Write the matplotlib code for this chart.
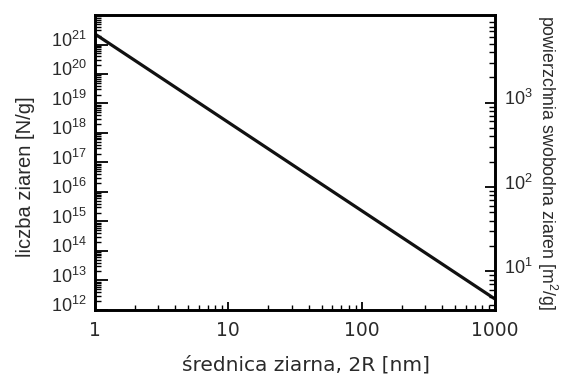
import numpy as np
import matplotlib
matplotlib.use('Agg')
import matplotlib.pyplot as plt
from matplotlib.ticker import LogLocator, FixedLocator, FixedFormatter, NullFormatter
import matplotlib.transforms as mtransforms

plt.rcParams['font.family'] = ['Liberation Sans', 'DejaVu Sans']
plt.rcParams['mathtext.fontset'] = 'custom'
plt.rcParams['mathtext.rm'] = 'Liberation Sans'
plt.rcParams['mathtext.it'] = 'Liberation Sans'

# data: grain diameter [nm] vs number of grains per gram
diameter = [1, 1000]
grain_count = [2.3e21, 2.3e12]

x_ticks = [1, 10, 100, 1000]
x_labels = ['1', '10', '100', '1000']
left_exps = list(range(12, 22))
right_exps = [1, 2, 3]

text_col = '#2a2a2a'
wide_font = ['DejaVu Sans']

fig = plt.figure(figsize=(5.64, 3.76), dpi=100)
ax = fig.add_axes([0.168, 0.176, 0.71, 0.784])

ax.plot(diameter, grain_count, color='#111111', lw=2.3, solid_capstyle='butt')

ax.set_xscale('log')
ax.set_yscale('log')
ax.set_xlim(1, 1000)
ax.set_ylim(1e12, 1e22)

ax.xaxis.set_major_locator(FixedLocator(x_ticks))
ax.xaxis.set_major_formatter(FixedFormatter(x_labels))
ax.xaxis.set_minor_locator(LogLocator(base=10, subs=np.arange(2, 10), numticks=100))
ax.xaxis.set_minor_formatter(NullFormatter())

ax.yaxis.set_major_locator(FixedLocator([10.0 ** e for e in left_exps]))
ax.yaxis.set_major_formatter(FixedFormatter([rf'$10^{{{e}}}$' for e in left_exps]))
ax.yaxis.set_minor_locator(LogLocator(base=10, subs=np.arange(2, 10), numticks=100))
ax.yaxis.set_minor_formatter(NullFormatter())

ax.tick_params(axis='both', which='major', direction='in', length=9, width=1.3,
               labelsize=13, colors='black', labelcolor=text_col)
ax.tick_params(axis='both', which='minor', direction='in', length=4.5, width=1.0)
ax.tick_params(axis='x', which='both', top=False, pad=8)
ax.tick_params(axis='y', which='both', right=False, pad=6)
ax.tick_params(axis='x', which='major', length=6)
ax.tick_params(axis='x', which='minor', length=3.5)
for lab in ax.get_xticklabels():
    lab.set_family(wide_font)
    lab.set_fontsize(13.5)

for s in ax.spines.values():
    s.set_linewidth(1.9)
    s.set_color('black')

# right axis: specific surface area
ax2 = ax.twinx()
ax2.set_yscale('log')
ax2.set_ylim(10 ** 0.544, 10 ** 4.04)
ax2.yaxis.set_major_locator(FixedLocator([10.0 ** e for e in right_exps]))
ax2.yaxis.set_major_formatter(FixedFormatter([rf'$10^{{{e}}}$' for e in right_exps]))
ax2.yaxis.set_minor_locator(LogLocator(base=10, subs=np.arange(2, 10), numticks=100))
ax2.yaxis.set_minor_formatter(NullFormatter())
ax2.tick_params(axis='y', which='major', direction='in', length=7, width=1.3,
                labelsize=13, labelcolor=text_col, pad=6)
ax2.tick_params(axis='y', which='minor', direction='in', length=4, width=1.0)
for s in ax2.spines.values():
    s.set_linewidth(1.9)

# shift y tick labels slightly upward like the original
shift = mtransforms.ScaledTranslation(0, 4 / 72, fig.dpi_scale_trans)
for lab in ax.get_yticklabels() + ax2.get_yticklabels():
    lab.set_transform(lab.get_transform() + shift)

ax.set_xlabel('średnica ziarna, 2R [nm]', fontsize=14.5, color=text_col, family=wide_font)
ax.xaxis.set_label_coords(0.527, -0.155)
ax.set_ylabel('liczba ziaren [N/g]', fontsize=14.5, color=text_col)
ax.yaxis.set_label_coords(-0.148, 0.45)
ax2.set_ylabel('powierzchnia swobodna ziaren [m$^2$/g]', fontsize=12.8, color=text_col,
               rotation=270, va='center')
ax2.yaxis.set_label_coords(1.13, 0.5)

fig.savefig('out.png', dpi=100)
